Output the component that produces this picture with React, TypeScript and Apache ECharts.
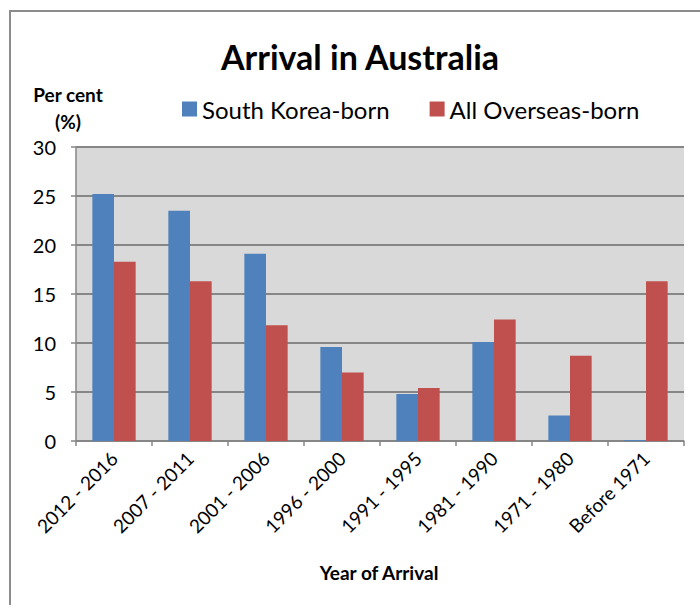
import React, { useEffect, useRef } from "react";
import * as echarts from "echarts";

const categories = [
  "2012 - 2016",
  "2007 - 2011",
  "2001 - 2006",
  "1996 - 2000",
  "1991 - 1995",
  "1981 - 1990",
  "1971 - 1980",
  "Before 1971",
];
const southKoreaBorn = [25.2, 23.5, 19.1, 9.6, 4.8, 10.1, 2.6, 0.1];
const allOverseasBorn = [18.3, 16.3, 11.8, 7.0, 5.4, 12.4, 8.7, 16.3];
const seriesNames = ["South Korea-born", "All Overseas-born"];

const FONT = "Lato, 'Open Sans', sans-serif";
const GRID_COLOR = "#868686";

export default function App() {
  const ref = useRef<HTMLDivElement>(null);

  useEffect(() => {
    document.body.style.margin = "0";
    if (!ref.current) return;
    const chart = echarts.init(ref.current, undefined, { renderer: "svg" });
    chart.setOption({
      animation: false,
      backgroundColor: "#ffffff",
      textStyle: { fontFamily: FONT, color: "#000" },
      graphic: [
        {
          type: "rect",
          shape: { x: 10, y: 11, width: 700, height: 610 },
          style: { fill: "none", stroke: "#8c8c8c", lineWidth: 2 },
          silent: true,
        },
        {
          type: "text",
          x: 360,
          y: 56,
          style: {
            text: "Arrival in Australia",
            font: `bold 34px ${FONT}`,
            fill: "#000",
            textAlign: "center",
            textVerticalAlign: "middle",
          },
        },
        {
          type: "text",
          x: 68,
          y: 108,
          style: {
            text: "Per cent\n(%)",
            font: `bold 19px ${FONT}`,
            lineHeight: 27,
            fill: "#000",
            textAlign: "center",
            textVerticalAlign: "middle",
          },
        },
        {
          type: "text",
          x: 379,
          y: 572,
          style: {
            text: "Year of Arrival",
            font: `bold 19px ${FONT}`,
            fill: "#000",
            textAlign: "center",
            textVerticalAlign: "middle",
          },
        },
      ],
      legend: {
        left: 177,
        top: 92,
        itemWidth: 15,
        itemHeight: 15,
        itemGap: 40,
        icon: "rect",
        textStyle: { fontSize: 24, fontFamily: FONT, color: "#000" },
        data: seriesNames,
      },
      grid: {
        left: 76,
        top: 147,
        right: 16,
        bottom: 164,
        show: true,
        backgroundColor: "#d9d9d9",
        borderWidth: 0,
      },
      xAxis: {
        type: "category",
        data: categories,
        axisLine: { lineStyle: { color: GRID_COLOR, width: 1.5 } },
        axisTick: {
          show: true,
          interval: 0,
          length: 5,
          lineStyle: { color: GRID_COLOR, width: 1.5 },
        },
        axisLabel: {
          interval: 0,
          rotate: 45,
          fontSize: 19,
          margin: 14,
          color: "#000",
          fontFamily: FONT,
        },
      },
      yAxis: {
        type: "value",
        min: 0,
        max: 30,
        interval: 5,
        axisLine: { show: true, lineStyle: { color: GRID_COLOR, width: 1.5 } },
        axisTick: { show: true, length: 5, lineStyle: { color: GRID_COLOR, width: 1.5 } },
        axisLabel: { fontSize: 20, margin: 20, color: "#000", fontFamily: FONT },
        splitLine: { lineStyle: { color: GRID_COLOR, width: 2 } },
      },
      series: [
        {
          name: seriesNames[0],
          type: "bar",
          data: southKoreaBorn,
          barGap: "0%",
          barCategoryGap: "43%",
          itemStyle: { color: "#4f81bd" },
        },
        {
          name: seriesNames[1],
          type: "bar",
          data: allOverseasBorn,
          barGap: "0%",
          barCategoryGap: "43%",
          itemStyle: { color: "#c0504d" },
        },
      ],
    });
    return () => chart.dispose();
  }, []);

  return <div ref={ref} style={{ width: 700, height: 605 }} />;
}
